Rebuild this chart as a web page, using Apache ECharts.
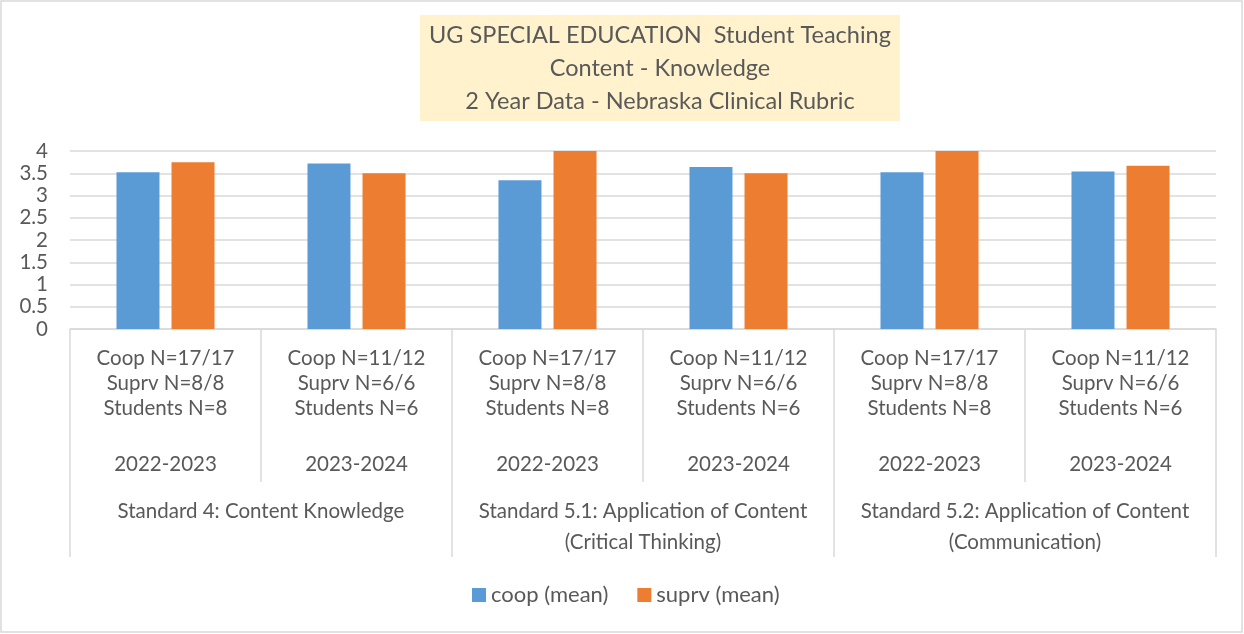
<!DOCTYPE html>
<html>
<head>
<meta charset="utf-8">
<script src="https://cdn.jsdelivr.net/npm/echarts@6/dist/echarts.min.js"></script>
<style>html,body{margin:0;padding:0;background:#fff}#c{width:1244px;height:634px}</style>
</head>
<body>
<div id="c"></div>
<script>
var nLabels = ["Coop N=17/17\nSuprv N=8/8\nStudents N=8", "Coop N=11/12\nSuprv N=6/6\nStudents N=6",
               "Coop N=17/17\nSuprv N=8/8\nStudents N=8", "Coop N=11/12\nSuprv N=6/6\nStudents N=6",
               "Coop N=17/17\nSuprv N=8/8\nStudents N=8", "Coop N=11/12\nSuprv N=6/6\nStudents N=6"];
var years = ["2022-2023", "2023-2024", "2022-2023", "2023-2024", "2022-2023", "2023-2024"];
var groups = ["Standard 4: Content Knowledge", "Standard 5.1: Application of Content\n(Critical Thinking)", "Standard 5.2: Application of Content\n(Communication)"];
var coopMean = [3.52, 3.72, 3.34, 3.64, 3.52, 3.54];
var suprvMean = [3.75, 3.50, 4.00, 3.50, 4.00, 3.67];
var yTicks = [0, 0.5, 1, 1.5, 2, 2.5, 3, 3.5, 4];
var titleLines = ["UG SPECIAL EDUCATION  Student Teaching", "Content - Knowledge", "2 Year Data - Nebraska Clinical Rubric"];

var FONT = 'Lato';
var TXT = '#595959';
var GRID = '#d9d9d9';
var FS = 20.5;

var cats = nLabels.map(function (n, i) { return i + '|' + n + '\n' + years[i]; });

var chart = echarts.init(document.getElementById('c'), null, { renderer: 'canvas' });
chart.setOption({
  animation: false,
  textStyle: { fontFamily: FONT },
  graphic: [
    { type: 'rect', shape: { x: 1, y: 1, width: 1241, height: 631 }, style: { fill: 'none', stroke: GRID, lineWidth: 1.5 }, silent: true },
    { type: 'rect', shape: { x: 420, y: 15, width: 480, height: 106 }, style: { fill: '#FFF2CC' }, silent: true },
    { type: 'text', x: 660, y: 68, style: { text: titleLines.join('\n'), align: 'center', verticalAlign: 'middle', fontFamily: FONT, fontSize: 23.5, lineHeight: 33, fill: TXT }, silent: true }
  ],
  legend: {
    left: 467, top: 579, itemWidth: 14, itemHeight: 14, itemGap: 29, icon: 'rect',
    textStyle: { fontFamily: FONT, fontSize: 22, color: TXT },
    data: ['coop (mean)', 'suprv (mean)']
  },
  grid: { left: 70, right: 28, top: 151, bottom: 305, containLabel: false },
  xAxis: [
    {
      type: 'category', data: cats, position: 'bottom',
      axisLine: { show: true, lineStyle: { color: GRID, width: 1.5 } },
      axisTick: { show: true, interval: 0, length: 153, lineStyle: { color: GRID, width: 1.5 } },
      axisLabel: {
        interval: 0, margin: 17, color: TXT, fontFamily: FONT, fontSize: FS,
        formatter: function (v) {
          var i = +v.split('|')[0];
          var lines = nLabels[i].split('\n');
          return lines.map(function (l) { return '{a|' + l + '}'; }).join('\n') + '\n{y|' + years[i] + '}';
        },
        rich: {
          a: { fontFamily: FONT, fontSize: FS, color: TXT, lineHeight: 25 },
          y: { fontFamily: FONT, fontSize: FS, color: TXT, lineHeight: 87 }
        }
      },
      splitLine: { show: false }
    },
    {
      type: 'category', data: groups, position: 'bottom',
      axisLine: { show: false },
      axisTick: { show: true, interval: 0, length: 228, lineStyle: { color: GRID, width: 1.5 } },
      axisLabel: { interval: 0, margin: 167, color: TXT, fontFamily: FONT, fontSize: FS, lineHeight: 31 },
      splitLine: { show: false }
    }
  ],
  yAxis: {
    type: 'value', min: yTicks[0], max: yTicks[yTicks.length - 1], interval: yTicks[1] - yTicks[0],
    axisLine: { show: false }, axisTick: { show: false },
    axisLabel: { color: TXT, fontFamily: FONT, fontSize: FS, margin: 22 },
    splitLine: { lineStyle: { color: GRID, width: 1.5 } }
  },
  series: [
    { name: 'coop (mean)', type: 'bar', xAxisIndex: 0, data: coopMean, barWidth: 43, barGap: '28%', itemStyle: { color: '#5B9BD5' } },
    { name: 'suprv (mean)', type: 'bar', xAxisIndex: 0, data: suprvMean, barWidth: 43, barGap: '28%', itemStyle: { color: '#ED7D31' } }
  ]
});
</script>
</body>
</html>
